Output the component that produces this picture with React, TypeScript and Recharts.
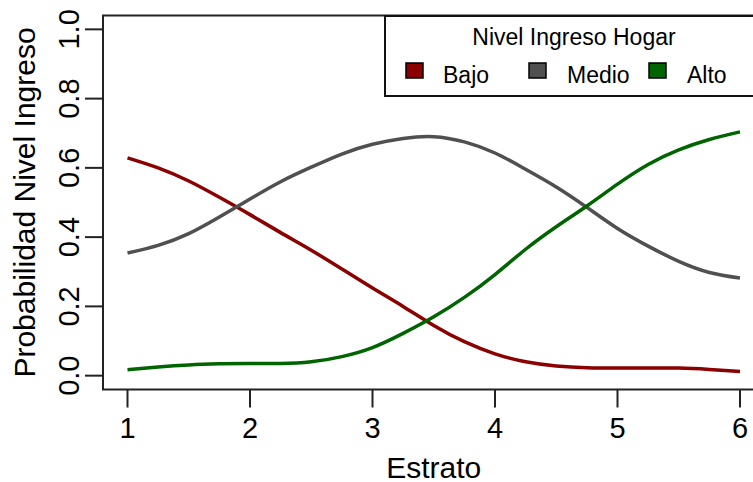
import React from 'react';
import {
  LineChart,
  Line,
  XAxis,
  YAxis,
  ReferenceArea,
  Label,
} from 'recharts';

// Probabilidad predicha por estrato para cada nivel de ingreso
const estrato = [1, 1.25, 1.5, 1.75, 2, 2.25, 2.5, 2.75, 3, 3.25, 3.5, 3.75, 4, 4.25, 4.5, 4.75, 5, 5.25, 5.5, 5.75, 6];
const bajo = [0.629, 0.6, 0.562, 0.515, 0.465, 0.413, 0.362, 0.308, 0.253, 0.2, 0.145, 0.098, 0.063, 0.04, 0.028, 0.023, 0.022, 0.022, 0.022, 0.018, 0.012];
const medio = [0.354, 0.376, 0.41, 0.458, 0.51, 0.56, 0.602, 0.64, 0.668, 0.685, 0.69, 0.675, 0.643, 0.596, 0.545, 0.486, 0.425, 0.374, 0.33, 0.298, 0.282];
const alto = [0.017, 0.025, 0.031, 0.034, 0.035, 0.035, 0.04, 0.055, 0.081, 0.122, 0.17, 0.226, 0.292, 0.365, 0.43, 0.49, 0.553, 0.61, 0.652, 0.682, 0.704];

const xTicks = [1, 2, 3, 4, 5, 6];
const yTicks = [0, 0.2, 0.4, 0.6, 0.8, 1.0];

const series = [
  { key: 'bajo', name: 'Bajo', color: '#8b0000' },
  { key: 'medio', name: 'Medio', color: '#505050' },
  { key: 'alto', name: 'Alto', color: '#006400' },
];

const data = estrato.map((e, i) => ({
  estrato: e,
  bajo: bajo[i],
  medio: medio[i],
  alto: alto[i],
}));

const FONT = '"Liberation Sans", Arial, sans-serif';
const INK = '#000';

const XTick = (props: any) => {
  const { x, y, payload } = props;
  return (
    <text x={x} y={y + 28.5} textAnchor="middle" fontSize={29} fontFamily={FONT} fill={INK}>
      {payload.value}
    </text>
  );
};

const YTick = (props: any) => {
  const { x, y, payload } = props;
  const bx = x - 4;
  return (
    <text
      x={bx}
      y={y}
      transform={`rotate(-90, ${bx}, ${y})`}
      textAnchor="middle"
      fontSize={29}
      fontFamily={FONT}
      fill={INK}
    >
      {Number(payload.value).toFixed(1)}
    </text>
  );
};

const XTitle = (props: any) => {
  const { x, y, width } = props.viewBox;
  return (
    <text x={x + width / 2} y={y + 88} textAnchor="middle" fontSize={30} fontFamily={FONT} fill={INK}>
      Estrato
    </text>
  );
};

const YTitle = (props: any) => {
  const { y, height } = props.viewBox;
  const cx = 35;
  const cy = y + height / 2;
  return (
    <text
      x={cx}
      y={cy}
      transform={`rotate(-90, ${cx}, ${cy})`}
      textAnchor="middle"
      fontSize={30}
      fontFamily={FONT}
      fill={INK}
    >
      Probabilidad Nivel Ingreso
    </text>
  );
};

// legend box in the top right corner of the plot region
const legendSquareX = [22, 145, 265];
const legendTextX = [59, 183, 303];

function LegendBox() {
  return (
    <div
      style={{
        position: 'absolute',
        left: 384,
        top: 14.5,
        width: 380,
        height: 82.5,
        boxSizing: 'border-box',
        border: '2px solid #111',
        background: '#fff',
      }}
    >
      <svg width={380} height={82} style={{ position: 'absolute', left: -2, top: -2 }}>
        <text x={190} y={29.5} textAnchor="middle" fontSize={23} fontFamily={FONT} fill={INK}>
          Nivel Ingreso Hogar
        </text>
        {series.map((s, i) => (
          <g key={s.key}>
            <rect x={legendSquareX[i]} y={48} width={17} height={15} fill={s.color} stroke="#000" strokeWidth={1.5} />
            <text x={legendTextX[i]} y={67.5} fontSize={23} fontFamily={FONT} fill={INK}>
              {s.name}
            </text>
          </g>
        ))}
      </svg>
    </div>
  );
}

export default function App() {
  return (
    <div style={{ position: 'fixed', left: 0, top: 0, width: 753, height: 482, overflow: 'hidden', background: '#fff' }}>
      <LineChart width={770} height={482} data={data} margin={{ top: 15.5, right: 5.5, bottom: 0, left: 0 }}>
        <XAxis
          dataKey="estrato"
          type="number"
          domain={[0.8, 6.2]}
          ticks={xTicks}
          allowDataOverflow
          height={92.5}
          axisLine={false}
          tickSize={18}
          tickMargin={2}
          tickLine={{ stroke: '#222', strokeWidth: 2 }}
          tick={<XTick />}
          interval={0}
        >
          <Label content={<XTitle />} />
        </XAxis>
        <YAxis
          type="number"
          domain={[-0.04, 1.04]}
          ticks={yTicks}
          allowDataOverflow
          width={103}
          axisLine={false}
          tickSize={18}
          tickMargin={2}
          tickLine={{ stroke: '#222', strokeWidth: 2 }}
          tick={<YTick />}
          interval={0}
        >
          <Label content={<YTitle />} />
        </YAxis>
        <ReferenceArea
          x1={0.8}
          x2={6.2}
          y1={-0.04}
          y2={1.04}
          fill="none"
          stroke="#222"
          strokeWidth={2}
          ifOverflow="visible"
        />
        {series.map((s) => (
          <Line
            key={s.key}
            dataKey={s.key}
            name={s.name}
            type="natural"
            stroke={s.color}
            strokeWidth={3.5}
            dot={false}
            activeDot={false}
            isAnimationActive={false}
          />
        ))}
      </LineChart>
      <LegendBox />
    </div>
  );
}
